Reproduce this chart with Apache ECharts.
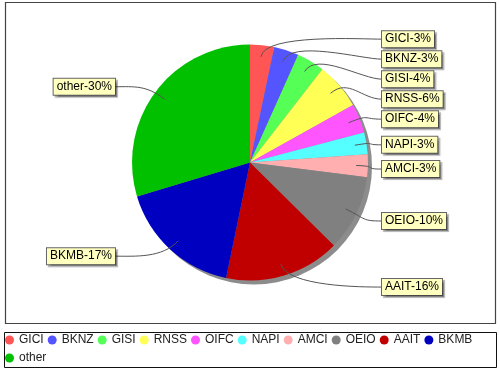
<!DOCTYPE html>
<html>
<head>
<meta charset="utf-8">
<script src="https://cdn.jsdelivr.net/npm/echarts@6/dist/echarts.min.js"></script>
<style>
html,body{margin:0;padding:0;background:#fff;}
#chart{width:500px;height:370px;}
</style>
</head>
<body>
<div id="chart"></div>
<script>
// ---- data (labels show rounded shares) ----
var categories = ['GICI','BKNZ','GISI','RNSS','OIFC','NAPI','AMCI','OEIO','AAIT','BKMB','other'];
var values     = [3.3, 3.4, 3.8, 6.4, 4.0, 3.0, 3.1, 10.4, 15.85, 17.1, 29.65];
var colors     = ['#FF5555','#5555FF','#55FF55','#FFFF55','#FF55FF','#55FFFF','#FFAFAF','#808080','#C00000','#0000C0','#00C000'];

// ---- layout ----
var CX = 250, CY = 162.5, R = 118;
var FONT = 'Liberation Sans, Arial, sans-serif';

var chart = echarts.init(document.getElementById('chart'), null, {renderer:'canvas'});

var total = values.reduce(function(a, b){ return a + b; }, 0);
var pieData = categories.map(function(c, i){
  return {name: c, value: values[i], itemStyle: {color: colors[i]}};
});
var labelData = categories.map(function(c, i){
  return {name: c, value: values[i]};
});

function bezierPoints(p0, p1, p2, p3, n){
  var out = [];
  for (var k = 0; k <= n; k++) {
    var t = k / n, u = 1 - t;
    var a = u*u*u, b = 3*u*u*t, c = 3*u*t*t, d = t*t*t;
    out.push([a*p0[0] + b*p1[0] + c*p2[0] + d*p3[0], a*p0[1] + b*p1[1] + c*p2[1] + d*p3[1]]);
  }
  return out;
}

var option = {
  animation: false,
  backgroundColor: '#fff',
  graphic: [
    {type:'rect', shape:{x:5.5, y:2.5, width:490, height:321}, style:{fill:'none', stroke:'#444', lineWidth:1.2}, silent:true, z:0},
    {type:'rect', shape:{x:4.5, y:332.5, width:492, height:35}, style:{fill:'none', stroke:'#111', lineWidth:1}, silent:true, z:0}
  ],
  legend: {
    data: categories,
    left: 5,
    top: 333,
    width: 485,
    padding: 0,
    itemGap: 4,
    itemWidth: 9,
    itemHeight: 9,
    icon: 'circle',
    selectedMode: false,
    textStyle: {fontFamily: FONT, fontSize: 12, lineHeight: 14, color: '#222'}
  },
  series: [
    {
      type: 'pie',
      name: 'shadow',
      silent: true,
      center: [CX + 4, CY + 4],
      radius: R,
      startAngle: 90,
      label: {show: false},
      labelLine: {show: false},
      emphasis: {disabled: true},
      data: [{name: '_shadow', value: 1, itemStyle: {color: '#8c8c8c'}}],
      z: 1
    },
    {
      type: 'pie',
      name: 'pie',
      center: [CX, CY],
      radius: R,
      startAngle: 90,
      clockwise: true,
      silent: true,
      itemStyle: {borderWidth: 0},
      emphasis: {disabled: true},
      label: {show: false},
      labelLine: {show: false},
      data: pieData,
      z: 2
    },
    {
      type: 'pie',
      name: 'labels',
      center: [CX, CY],
      radius: R,
      startAngle: 90,
      clockwise: true,
      silent: true,
      avoidLabelOverlap: true,
      itemStyle: {color: 'rgba(0,0,0,0)', borderWidth: 0},
      emphasis: {disabled: true},
      label: {
        show: true,
        position: 'outer',
        alignTo: 'none',
        formatter: function(p){ return p.name + '-' + Math.round(p.value / total * 100) + '%'; },
        fontFamily: FONT,
        fontSize: 12,
        color: '#000',
        opacity: 1,
        lineHeight: 13,
        backgroundColor: '#FFFFC0',
        borderColor: '#666',
        borderWidth: 1,
        padding: [2, 3, 1, 3],
        shadowColor: 'rgba(0,0,0,0.3)',
        shadowBlur: 1,
        shadowOffsetX: 2,
        shadowOffsetY: 2
      },
      labelLine: {
        show: true,
        length: 9,
        length2: 10,
        smooth: false,
        lineStyle: {color: '#555', width: 1, opacity: 1}
      },
      labelLayout: function(params){
        var rect = params.labelRect;
        var pts = params.labelLinePoints;
        var isLeft = rect.x + rect.width / 2 < CX;
        var y = rect.y + rect.height / 2 + (isLeft ? 0 : 3);
        var x = isLeft ? CX - R - 17 : CX + R + 14;
        var out = {x: x, y: y, align: isLeft ? 'right' : 'left', verticalAlign: 'middle'};
        if (pts && pts.length) {
          var p0 = pts[0];
          var dx = p0[0] - CX, dy = p0[1] - CY;
          var len = Math.sqrt(dx*dx + dy*dy) || 1;
          var ux = dx / len, uy = dy / len;
          var a = [CX + ux * R * 0.9, CY + uy * R * 0.9];
          var b = [CX + ux * R * 1.1, CY + uy * R * 1.1];
          var c = [x + (isLeft ? 20 : -20), y];
          out.labelLinePoints = bezierPoints(a, b, c, [x, y], 16);
        }
        return out;
      },
      data: labelData,
      z: 3
    }
  ]
};
chart.setOption(option);
</script>
</body>
</html>
